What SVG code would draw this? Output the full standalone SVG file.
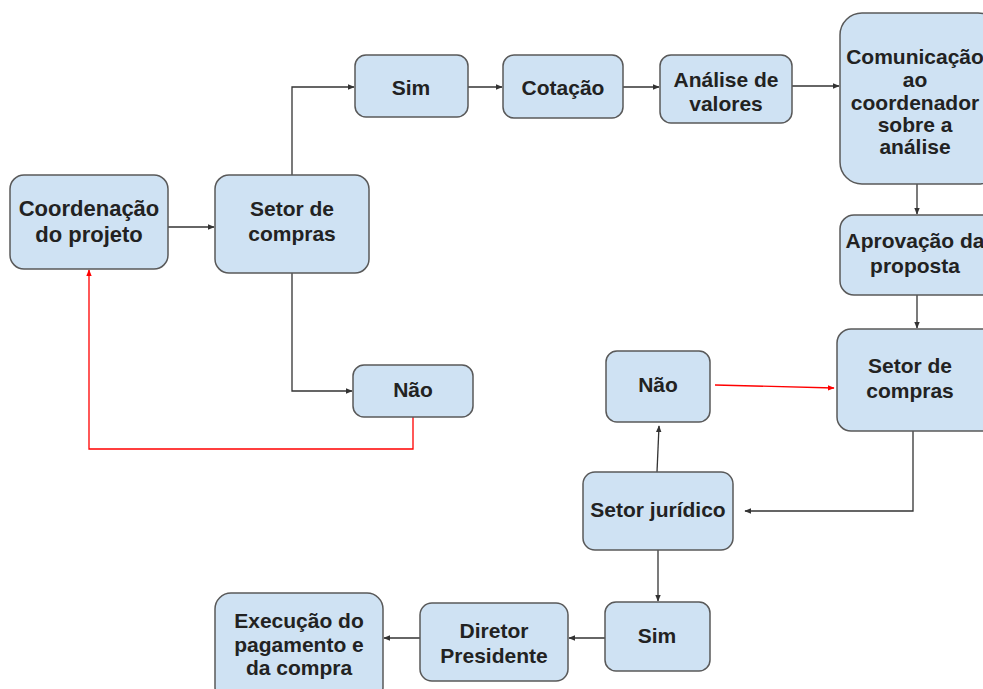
<svg xmlns="http://www.w3.org/2000/svg" width="983" height="689" viewBox="0 0 983 689">
<style>
.box{fill:#cfe2f3;stroke:#595959;stroke-width:1.5}
.t{font-family:"Liberation Sans",Arial,sans-serif;font-weight:bold;font-size:21px;fill:#222;text-anchor:middle}
.c{fill:none;stroke:#333;stroke-width:1.3}
.r{fill:none;stroke:#ff0000;stroke-width:1.3}
</style>
<defs>
<marker id="ab" viewBox="0 0 10 10" refX="9" refY="5" markerWidth="7" markerHeight="7" markerUnits="userSpaceOnUse" orient="auto"><path d="M0,1 L10,5 L0,9 Z" fill="#333"/></marker>
<marker id="ar" viewBox="0 0 10 10" refX="9" refY="5" markerWidth="7" markerHeight="7" markerUnits="userSpaceOnUse" orient="auto"><path d="M0,1 L10,5 L0,9 Z" fill="#ff0000"/></marker>
</defs>
<rect width="983" height="689" fill="#ffffff"/>
<g id="connectors">
<path class="c" d="M168,227 L214,227" marker-end="url(#ab)"/>
<path class="c" d="M292,175 L292,87 L354,87" marker-end="url(#ab)"/>
<path class="c" d="M468,87 L502,87" marker-end="url(#ab)"/>
<path class="c" d="M623,87 L659,87" marker-end="url(#ab)"/>
<path class="c" d="M792,86 L839,86" marker-end="url(#ab)"/>
<path class="c" d="M917,184 L917,214" marker-end="url(#ab)"/>
<path class="c" d="M917,295 L917,328" marker-end="url(#ab)"/>
<path class="c" d="M292,273 L292,391 L352,391" marker-end="url(#ab)"/>
<path class="r" d="M413,417 L413,449 L89,449 L89,270" marker-end="url(#ar)"/>
<path class="r" d="M715,385 L834,388" marker-end="url(#ar)"/>
<path class="c" d="M913,431 L913,511 L745,511" marker-end="url(#ab)"/>
<path class="c" d="M657,472 L659,426" marker-end="url(#ab)"/>
<path class="c" d="M658,550 L658,601" marker-end="url(#ab)"/>
<path class="c" d="M605,638 L569,638" marker-end="url(#ab)"/>
<path class="c" d="M420,638 L384,638" marker-end="url(#ab)"/>
</g>
<g id="coordenacao"><rect class="box" x="10" y="175" width="158" height="94" rx="14"/><text class="t" style="font-size:22px" x="89" y="216">Coordenação</text><text class="t" style="font-size:22px" x="89" y="242">do projeto</text></g>
<g id="setor1"><rect class="box" x="215" y="175" width="154" height="98" rx="14"/><text class="t" x="292" y="216">Setor de</text><text class="t" x="292" y="241">compras</text></g>
<g id="sim1"><rect class="box" x="355" y="55" width="113" height="62" rx="11"/><text class="t" x="411" y="95">Sim</text></g>
<g id="cotacao"><rect class="box" x="503" y="55" width="120" height="63" rx="11"/><text class="t" x="563" y="95">Cotação</text></g>
<g id="analise"><rect class="box" x="660" y="55" width="132" height="68" rx="11"/><text class="t" x="726" y="87">Análise de</text><text class="t" x="726" y="111">valores</text></g>
<g id="comunicacao"><rect class="box" x="840" y="13" width="160" height="171" rx="22"/><text class="t" x="915" y="64">Comunicação</text><text class="t" x="915" y="87">ao</text><text class="t" x="915" y="110">coordenador</text><text class="t" x="915" y="132">sobre a</text><text class="t" x="915" y="154">análise</text></g>
<g id="aprovacao"><rect class="box" x="840" y="215" width="160" height="80" rx="14"/><text class="t" x="915" y="248">Aprovação da</text><text class="t" x="915" y="273">proposta</text></g>
<g id="setor2"><rect class="box" x="837" y="329" width="160" height="102" rx="14"/><text class="t" x="910" y="373">Setor de</text><text class="t" x="910" y="398">compras</text></g>
<g id="nao2"><rect class="box" x="606" y="351" width="104" height="71" rx="11"/><text class="t" x="658" y="392">Não</text></g>
<g id="juridico"><rect class="box" x="583" y="472" width="150" height="78" rx="12"/><text class="t" x="658" y="517">Setor jurídico</text></g>
<g id="sim2"><rect class="box" x="605" y="602" width="105" height="69" rx="11"/><text class="t" x="657" y="643">Sim</text></g>
<g id="diretor"><rect class="box" x="420" y="603" width="148" height="78" rx="12"/><text class="t" x="494" y="638">Diretor</text><text class="t" x="494" y="663">Presidente</text></g>
<g id="execucao"><rect class="box" x="215" y="593" width="168" height="110" rx="16"/><text class="t" x="299" y="628">Execução do</text><text class="t" x="299" y="652">pagamento e</text><text class="t" x="299" y="675">da compra</text></g>
<g id="nao1"><rect class="box" x="353" y="365" width="120" height="52" rx="11"/><text class="t" x="413" y="397">Não</text></g>
</svg>
